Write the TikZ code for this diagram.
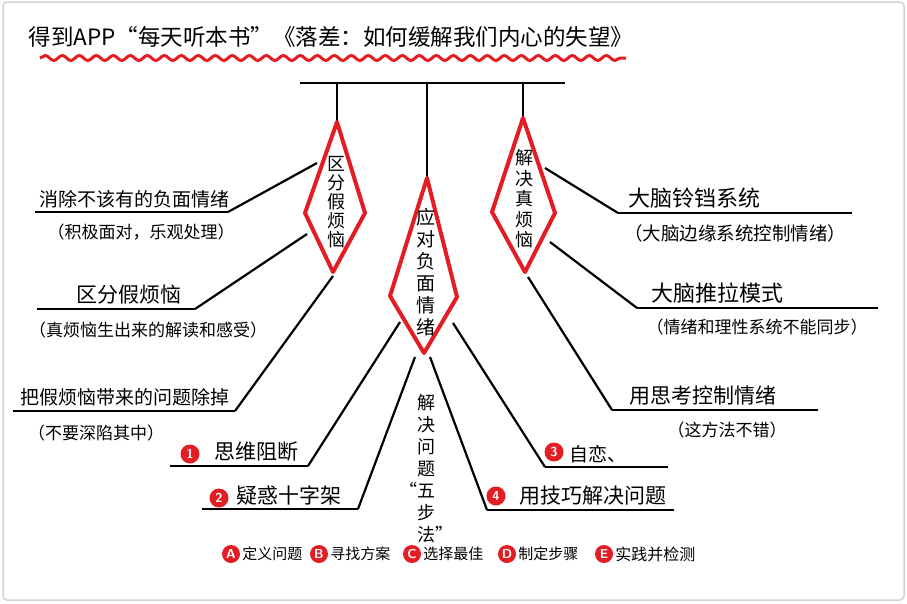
\documentclass[tikz,border=0pt]{standalone}
\usepackage{fontspec}
\newfontfamily\cjk{Noto Sans CJK SC}
\usetikzlibrary{decorations.pathmorphing,positioning}
\definecolor{inkred}{RGB}{226,30,36}

\begin{document}
\begin{tikzpicture}[x=1pt,y=-1pt]
\tikzstyle{every node}=[inner sep=0pt, font=\cjk]
\tikzstyle{bar}=[line width=2.5pt]
\tikzstyle{kite}=[draw=inkred, line width=4pt, line join=round]
\tikzstyle{link}=[line width=2.2pt]
\tikzstyle{uline}=[line width=2.2pt]
\tikzstyle{head}=[anchor=base, font=\cjk\fontsize{19}{19}\selectfont]
\tikzstyle{note}=[anchor=base, font=\cjk\fontsize{17}{17}\selectfont]
\tikzstyle{item}=[anchor=west, font=\cjk\fontsize{15}{15}\selectfont]
\tikzstyle{badge}=[circle, fill=inkred, text=white, minimum size=19pt, font=\sffamily\bfseries\fontsize{13}{13}\selectfont]
\tikzstyle{vert}=[align=center, font=\cjk\fontsize{18}{19}\selectfont]

\useasboundingbox (0,0) rectangle (907,603);
\draw [gray!35, line width=1.5pt, rounded corners=4pt] (3,2) rectangle (904,600);

\draw (331,37) node (title) [font=\cjk\fontsize{22.5}{22.5}\selectfont] {得到APP“每天听本书”《落差：如何缓解我们内心的失望》};
\draw [inkred, line width=3pt, decorate, decoration={snake, segment length=17pt, amplitude=2.5pt}] (40,58) -- (626,58);

\coordinate (bl) at (300,83);
\coordinate (br) at (565,83);
\draw [bar] (bl) -- (br);

\coordinate (k1t) at (337,122);
\coordinate (k1l) at (305,213);
\coordinate (k1r) at (365,213);
\coordinate (k1b) at (333,272);
\coordinate (k2t) at (427,178);
\coordinate (k2l) at (390,296);
\coordinate (k2r) at (457,297);
\coordinate (k2b) at (424,353);
\coordinate (k3t) at (523,118);
\coordinate (k3l) at (492,212);
\coordinate (k3r) at (555,213);
\coordinate (k3b) at (525,272);
\draw [bar] (k1t |- bl) -- (k1t);
\draw [bar] (k2t |- bl) -- (k2t);
\draw [bar] (k3t |- bl) -- (k3t);
\draw [kite] (k1t) -- (k1r) -- (k1b) -- (k1l) -- cycle;
\draw [kite] (k2t) -- (k2r) -- (k2b) -- (k2l) -- cycle;
\draw [kite] (k3t) -- (k3r) -- (k3b) -- (k3l) -- cycle;
\draw (336,202) node (k1) [vert] {区\\分\\假\\烦\\恼};
\draw (426,272) node (k2) [vert, font=\cjk\fontsize{19}{22}\selectfont] {应\\对\\负\\面\\情\\绪};
\draw (524,199) node (k3) [vert, font=\cjk\fontsize{18}{20.5}\selectfont] {解\\决\\真\\烦\\恼};

\coordinate (k1a) at (317,163);
\coordinate (k1c) at (307,234);
\coordinate (k1d) at (333,276);
\coordinate (k2a) at (400,322);
\coordinate (k2c) at (415,357);
\coordinate (k2d) at (430,357);
\coordinate (k2e) at (453,323);
\coordinate (k3a) at (545,168);
\coordinate (k3c) at (550,242);
\coordinate (k3d) at (528,277);

\coordinate (l1a) at (35,212);
\coordinate (l1b) at (228,212);
\coordinate (l2a) at (37,309);
\coordinate (l2b) at (195,309);
\coordinate (l3a) at (13,411);
\coordinate (l3b) at (235,411);
\draw [uline] (l1a) -- (l1b);
\draw [uline] (l2a) -- (l2b);
\draw [uline] (l3a) -- (l3b);
\draw [link] (l1b) -- (k1a);
\draw [link] (l2b) -- (k1c);
\draw [link] (l3b) -- (k1d);
\draw (134,206) node (l1) [head] {消除不该有的负面情绪};
\draw (141,238) node (n1) [note] {（积极面对，乐观处理）};
\draw (129,302) node (l2) [head, font=\cjk\fontsize{21}{21}\selectfont] {区分假烦恼};
\draw (148,336) node (n2) [note] {（真烦恼生出来的解读和感受）};
\draw (125,404) node (l3) [head] {把假烦恼带来的问题除掉};
\draw (96,439) node (n3) [note] {（不要深陷其中）};

\coordinate (m1a) at (170,466);
\coordinate (m1b) at (308,466);
\coordinate (m2a) at (202,509);
\coordinate (m2b) at (358,509);
\coordinate (m3a) at (545,467);
\coordinate (m3b) at (668,467);
\coordinate (m4a) at (487,510);
\coordinate (m4b) at (674,510);
\draw [uline] (m1a) -- (m1b);
\draw [uline] (m2a) -- (m2b);
\draw [uline] (m3a) -- (m3b);
\draw [uline] (m4a) -- (m4b);
\draw [link] (m1b) -- (k2a);
\draw [link] (m2b) -- (k2c);
\draw [link] (m3a) -- (k2e);
\draw [link] (m4a) -- (k2d);
\draw (190,454) node (b1) [badge] {1};
\draw (256,459) node (m1) [head, font=\cjk\fontsize{21}{21}\selectfont] {思维阻断};
\draw (219,498) node (b2) [badge] {2};
\draw (289,503) node (m2) [head, font=\cjk\fontsize{21}{21}\selectfont] {疑惑十字架};
\draw (554,452) node (b3) [badge] {3};
\draw (598,461) node (m3) [head] {自恋、};
\draw (496,496) node (b4) [badge] {4};
\draw (593,503) node (m4) [head, font=\cjk\fontsize{21}{21}\selectfont] {用技巧解决问题};

\draw (426,469) node (steps) [vert, font=\cjk\fontsize{18}{22}\selectfont] {解\\决\\问\\题\\\llap{“}五\\步\\法\rlap{”}};

\draw (231,554) node (ba) [badge, minimum size=18pt] {A};
\node (sa) [item, right=2pt of ba] {定义问题};
\draw (319,554) node (bb) [badge, minimum size=18pt] {B};
\node (sb) [item, right=2pt of bb] {寻找方案};
\draw (412,554) node (bc) [badge, minimum size=18pt] {C};
\node (sc) [item, right=2pt of bc] {选择最佳};
\draw (507,554) node (bd) [badge, minimum size=18pt] {D};
\node (sd) [item, right=2pt of bd] {制定步骤};
\draw (604,554) node (be) [badge, minimum size=18pt] {E};
\node (se) [item, right=2pt of be, font=\cjk\fontsize{16}{16}\selectfont] {实践并检测};

\coordinate (r1a) at (618,213);
\coordinate (r1b) at (852,213);
\coordinate (r2a) at (637,308);
\coordinate (r2b) at (878,308);
\coordinate (r3a) at (612,410);
\coordinate (r3b) at (818,410);
\draw [uline] (r1a) -- (r1b);
\draw [uline] (r2a) -- (r2b);
\draw [uline] (r3a) -- (r3b);
\draw [link] (r1a) -- (k3a);
\draw [link] (r2a) -- (k3c);
\draw [link] (r3a) -- (k3d);
\draw (694,206) node (r1) [head, font=\cjk\fontsize{22}{22}\selectfont] {大脑铃铛系统};
\draw (735,240) node (p1) [note, font=\cjk\fontsize{18.5}{18.5}\selectfont] {（大脑边缘系统控制情绪）};
\draw (717,301) node (r2) [head, font=\cjk\fontsize{22}{22}\selectfont] {大脑推拉模式};
\draw (757,333) node (p2) [note] {（情绪和理性系统不能同步）};
\draw (703,403) node (r3) [head, font=\cjk\fontsize{21}{21}\selectfont] {用思考控制情绪};
\draw (727,436) node (p3) [note] {（这方法不错）};
\end{tikzpicture}
\end{document}
